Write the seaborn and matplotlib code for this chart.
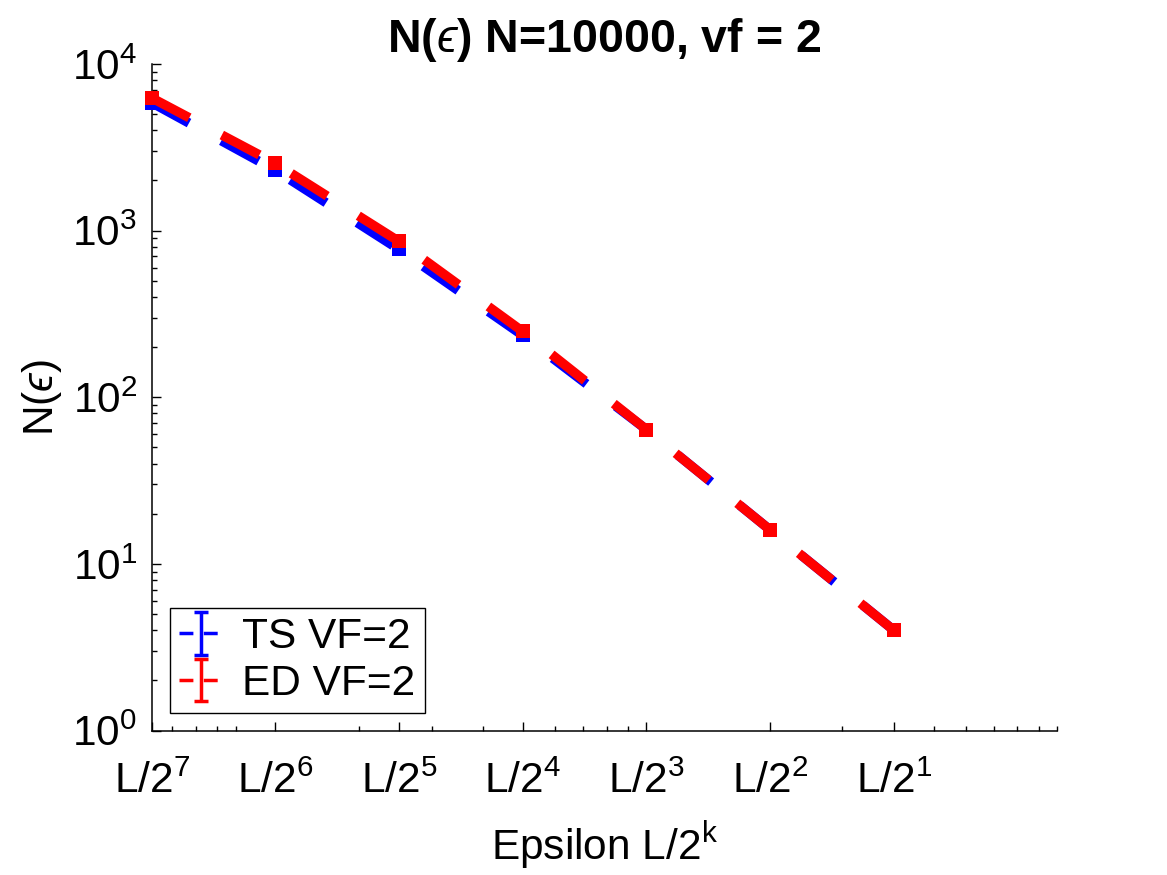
import numpy as np
import pandas as pd
import matplotlib
matplotlib.use("Agg")
import matplotlib.pyplot as plt
import matplotlib.ticker as mticker
import seaborn as sns

# ---- data ----
eps = [0.0625, 0.125, 0.25, 0.5, 1, 2, 4]          # L/2^7 ... L/2^1 with L = 8
tick_labels = [r"L/2$^{7}$", r"L/2$^{6}$", r"L/2$^{5}$", r"L/2$^{4}$",
               r"L/2$^{3}$", r"L/2$^{2}$", r"L/2$^{1}$"]
ts_vals = [5850, 2300, 770, 235, 64, 16, 4]
ed_vals = [6250, 2530, 860, 248, 64, 16, 4]
series_names = ["TS VF=2", "ED VF=2"]
series_colors = ["#0000ff", "#ff0000"]

sns.set_style("ticks")
plt.rcParams["font.family"] = ["Liberation Sans", "DejaVu Sans"]
plt.rcParams["mathtext.fontset"] = "custom"
plt.rcParams["mathtext.rm"] = "Liberation Sans"
plt.rcParams["mathtext.it"] = "Liberation Sans:italic"
plt.rcParams["mathtext.bf"] = "Liberation Sans:bold"
plt.rcParams["lines.scale_dashes"] = True
for k in ["text.color", "axes.labelcolor", "xtick.color", "ytick.color", "axes.edgecolor"]:
    plt.rcParams[k] = "black"

FS = 30.5
EPS_CHAR = "\u03f5"
fig = plt.figure(figsize=(11.67, 8.75), dpi=100)
ax = fig.add_axes([0.130, 0.165, 0.776, 0.762])

LW = 6.8
for vals, name, col, z in zip([ts_vals, ed_vals], series_names, series_colors, [2, 4]):
    df = pd.DataFrame({"eps": eps, "N": vals})
    sns.lineplot(data=df, x="eps", y="N", color=col, linewidth=LW, ax=ax,
                 zorder=z, legend=False)
    ln = ax.lines[-1]
    ln.set_dashes((4.5, 3.9))
    ln.set_dash_capstyle("butt")
    ln.set_clip_on(False)
    ax.scatter(eps, vals, marker="s", s=95, color=col, linewidths=0,
               zorder=z + 1, clip_on=False)

# legend proxies (errorbar glyphs)
handles = []
for name, col in zip(series_names, series_colors):
    h = ax.errorbar([np.nan], [np.nan], yerr=[1], fmt="--", color=col,
                    ecolor=col, linewidth=2.5, elinewidth=2.5, capsize=5,
                    capthick=2.5, label=name, dashes=(4, 3))
    handles.append(h)

ax.set_xscale("log")
ax.set_yscale("log")
ax.set_xlim(0.0625, 10)
ax.set_ylim(1, 1e4)

ax.set_xticks(eps)
ax.set_xticklabels(tick_labels)
ax.xaxis.set_minor_locator(mticker.LogLocator(base=10, subs=np.arange(1, 10), numticks=100))
ax.xaxis.set_minor_formatter(mticker.NullFormatter())
ax.yaxis.set_major_locator(mticker.LogLocator(base=10, numticks=10))
ax.yaxis.set_minor_locator(mticker.LogLocator(base=10, subs=np.arange(2, 10), numticks=100))
ax.yaxis.set_minor_formatter(mticker.NullFormatter())

ax.tick_params(axis="both", which="major", direction="in", length=6.5, width=1,
               labelsize=FS, color="black", labelcolor="black")
ax.tick_params(axis="both", which="minor", direction="in", length=3.5, width=1,
               color="black")
ax.tick_params(axis="x", which="major", pad=22)
ax.tick_params(axis="y", which="major", pad=10.5)
ax.tick_params(top=False, right=False, which="both")

for s in ["top", "right"]:
    ax.spines[s].set_visible(False)
for s in ["left", "bottom"]:
    ax.spines[s].set_linewidth(1.1)
    ax.spines[s].set_color("black")

ax.set_xlabel(r"Epsilon L/2$^{\mathrm{k}}$", fontsize=FS, labelpad=13)
ax.set_ylabel("N($" + EPS_CHAR + "$)", fontsize=FS, labelpad=6)
ax.set_title("N($" + EPS_CHAR + "$) N=10000, vf = 2", fontsize=33.5,
             fontweight="bold", pad=8)

leg = ax.legend(handles=handles, loc="lower left", fontsize=FS, frameon=True,
                fancybox=False, framealpha=1, edgecolor="black",
                borderaxespad=0.42, borderpad=0.22, labelspacing=0.15,
                handlelength=1.05, handletextpad=0.45)
leg.get_frame().set_linewidth(1.0)

fig.savefig("out.png", dpi=100)
